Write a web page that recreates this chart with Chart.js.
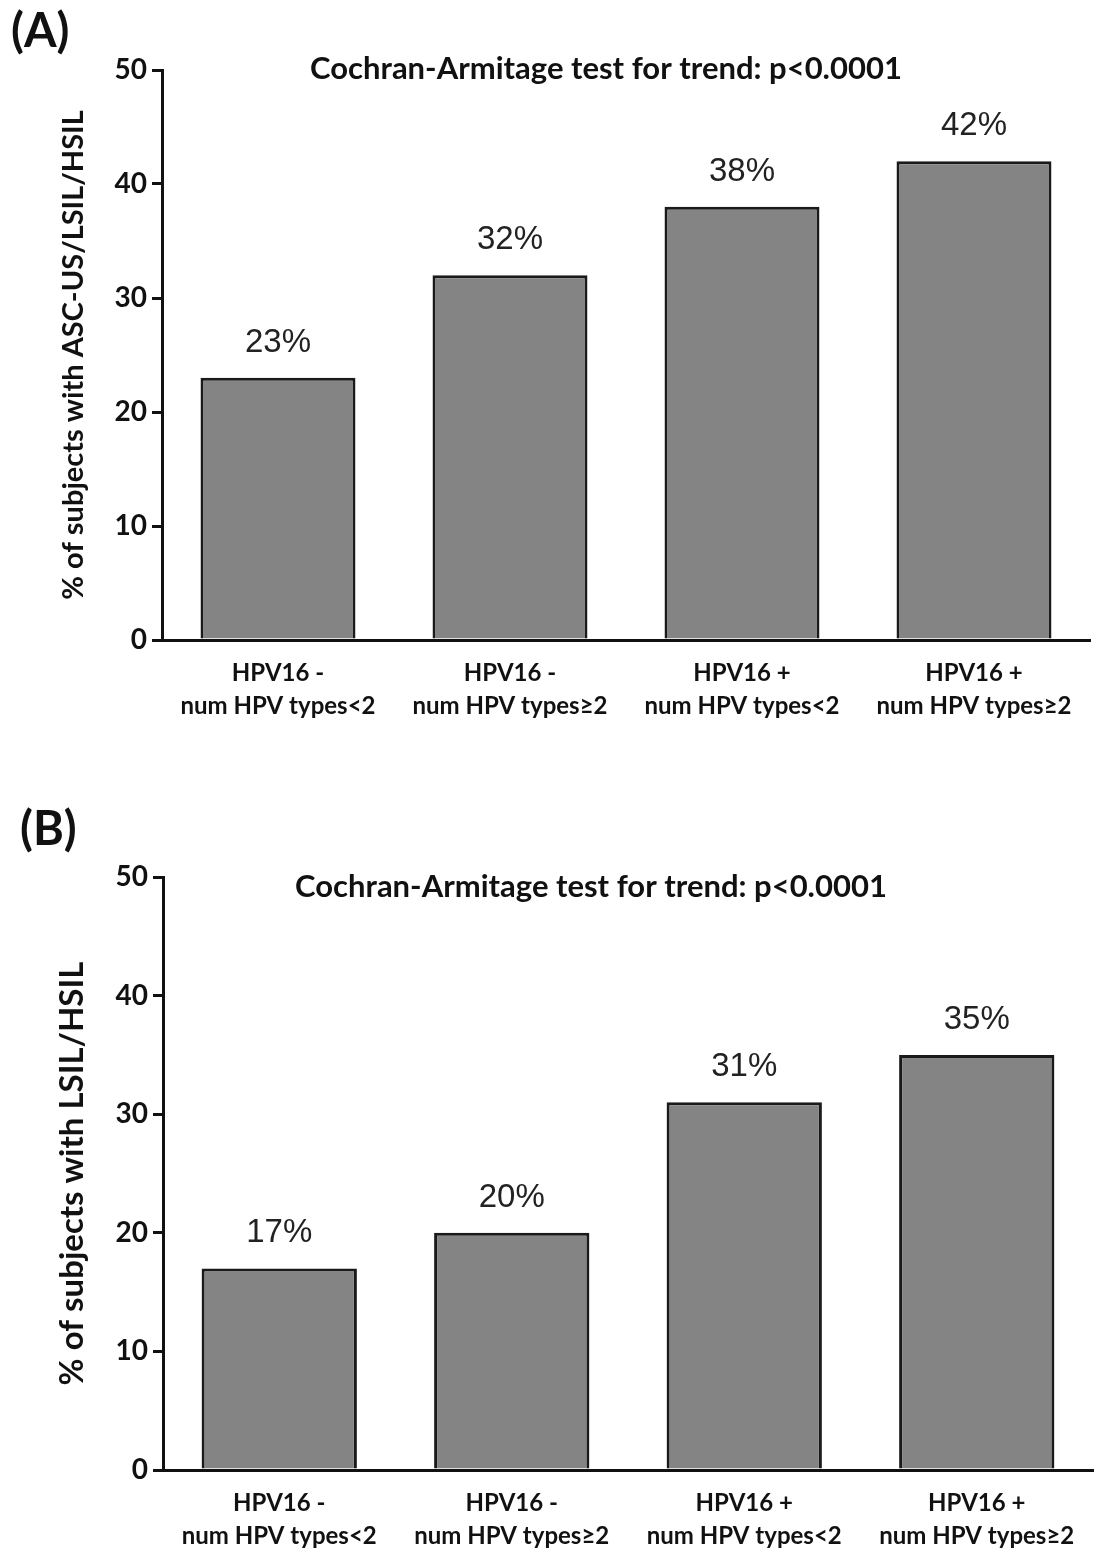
<!DOCTYPE html>
<html>
<head>
<meta charset="utf-8">
<script src="https://cdn.jsdelivr.net/npm/chart.js@4.4.1/dist/chart.umd.min.js"></script>
<style>
  html, body { margin: 0; padding: 0; background: #fff; }
  #wrap { position: relative; width: 1100px; height: 1556px; }
  canvas { position: absolute; left: 0; }
  #cA { top: 0; }
  #cB { top: 778px; }
</style>
</head>
<body>
<div id="wrap">
  <canvas id="cA" width="1100" height="778"></canvas>
  <canvas id="cB" width="1100" height="778"></canvas>
</div>
<script>
// ---- data ----
const categories = [
  ['HPV16 -', 'num HPV types<2'],
  ['HPV16 -', 'num HPV types\u22652'],
  ['HPV16 +', 'num HPV types<2'],
  ['HPV16 +', 'num HPV types\u22652']
];
const valuesA = [23, 32, 38, 42];
const valuesB = [17, 20, 31, 35];
const yMin = 0, yMax = 50, yStep = 10;
const trendTitle = 'Cochran-Armitage test for trend: p<0.0001';
const yTitleA = '% of subjects with ASC-US/LSIL/HSIL';
const yTitleB = '% of subjects with LSIL/HSIL';

const BOLD = 'Lato, "Open Sans", sans-serif';

// draws panel letter, test title and the % labels over bars
const extras = {
  id: 'extras',
  afterDatasetsDraw(chart, args, o) {
    const c = chart.ctx;
    c.save();
    c.fillStyle = '#111';
    c.textAlign = 'left';
    c.textBaseline = 'alphabetic';
    c.font = 'bold 47px ' + BOLD;
    c.fillText(o.letter, o.letterX, o.letterY);

    c.textAlign = 'center';
    c.font = 'bold 31px ' + BOLD;
    c.fillText(trendTitle, o.titleX, o.titleY);

    c.font = '33px "Liberation Sans", Arial, sans-serif';
    c.fillStyle = '#222';
    const meta = chart.getDatasetMeta(0);
    meta.data.forEach((bar, i) => {
      c.fillText(o.values[i] + '%', bar.x, bar.y - 26);
    });
    c.restore();
  }
};

function makeChart(id, values, yTitle, opt) {
  return new Chart(document.getElementById(id), {
    type: 'bar',
    data: {
      labels: categories,
      datasets: [{
        data: values,
        backgroundColor: '#838483',
        borderColor: '#1a1a1a',
        borderWidth: 3,
        barPercentage: 0.668,
        categoryPercentage: 1
      }]
    },
    options: {
      responsive: false,
      animation: false,
      events: [],
      layout: { padding: { top: opt.top, right: opt.right, left: 0, bottom: 0 } },
      plugins: {
        legend: { display: false },
        tooltip: { enabled: false },
        extras: opt
      },
      scales: {
        x: {
          grid: { display: false, drawTicks: false },
          border: { display: true, color: '#111', width: 3 },
          ticks: {
            color: '#111',
            padding: 16,
            maxRotation: 0,
            autoSkip: false,
            font: { family: BOLD, weight: 'bold', size: 24, lineHeight: 1.4 }
          },
          afterFit(s) { s.height = opt.xHeight; }
        },
        y: {
          min: yMin,
          max: yMax,
          grid: { drawOnChartArea: false, drawTicks: true, tickLength: 10, color: '#111', lineWidth: 3 },
          border: { display: true, color: '#111', width: 3 },
          ticks: {
            stepSize: yStep,
            color: '#111',
            padding: 5,
            font: { family: BOLD, weight: 'bold', size: 28 }
          },
          title: {
            display: true,
            text: yTitle,
            color: '#111',
            padding: { top: opt.yTitlePad, bottom: 0 },
            font: { family: BOLD, weight: 'bold', size: opt.yTitleSize }
          },
          afterFit(s) { s.width = opt.left; }
        }
      }
    },
    plugins: [extras]
  });
}

makeChart('cA', valuesA, yTitleA, {
  values: valuesA, letter: '(A)', letterX: 11, letterY: 47,
  titleX: 606, titleY: 79, yTitleSize: 29, yTitlePad: 56,
  top: 70, right: 10, left: 162, xHeight: 138
});
makeChart('cB', valuesB, yTitleB, {
  values: valuesB, letter: '(B)', letterX: 20, letterY: 67,
  titleX: 591, titleY: 119, yTitleSize: 33, yTitlePad: 53,
  top: 99, right: 7, left: 163, xHeight: 86
});
</script>
</body>
</html>
